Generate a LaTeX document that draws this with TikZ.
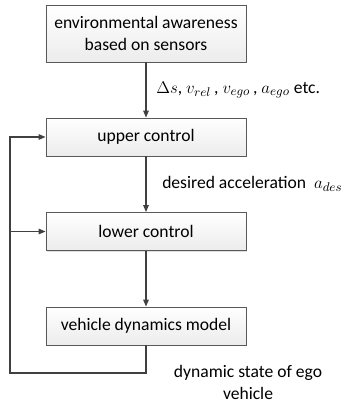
\documentclass[tikz,border=0pt]{standalone}
\usepackage{fontspec}
\setmainfont{Carlito}
\usepackage{tikz}
\usetikzlibrary{shadows,arrows.meta}

\begin{document}
\begin{tikzpicture}[x=0.025cm,y=-0.025cm,line width=0.8pt,>={Triangle[length=5pt,width=4pt]},
  font=\fontsize{12.5}{15.6}\selectfont,
  block/.style={draw=gray!70!black,line width=0.6pt,top color=white,bottom color=gray!15,
    minimum width=5cm,minimum height=0.95cm,align=center,
    drop shadow={shadow xshift=0.8pt,shadow yshift=-0.8pt,opacity=0.25}}]
\useasboundingbox (0,0) rectangle (345,405);

\node [block,minimum height=1.425cm] (sensor) at (146,33.5) {environmental awareness\\based on sensors};
\node [block] (upper) at (146,137) {upper control};
\node [block] (lower) at (146,231.5) {lower control};
\node [block] (vehicle) at (146,326) {vehicle dynamics model};

\draw[->,black!75]  (sensor)  --  (upper);
\draw[->,black!75]  (upper)  --  (lower);
\draw[->,black!75]  (lower)  --  (vehicle);

\coordinate (corner) at (10,373);
\draw[->,black!75]  (vehicle.south)  |-  (corner)  |-  (upper.west);
\draw[->,black!75]  (corner |- lower.west)  --  (lower.west);

\node [right] (sensor label) at (151,90) {$\Delta s$, $v_{rel}$\,, $v_{ego}$\,, $a_{ego}$ etc.};
\node [right] (des label) at (157,184) {desired acceleration\ \ $a_{des}$};
\node [align=center,inner sep=1pt] (state label) at (248,382) {dynamic state of ego\\vehicle};

\end{tikzpicture}
\end{document}
